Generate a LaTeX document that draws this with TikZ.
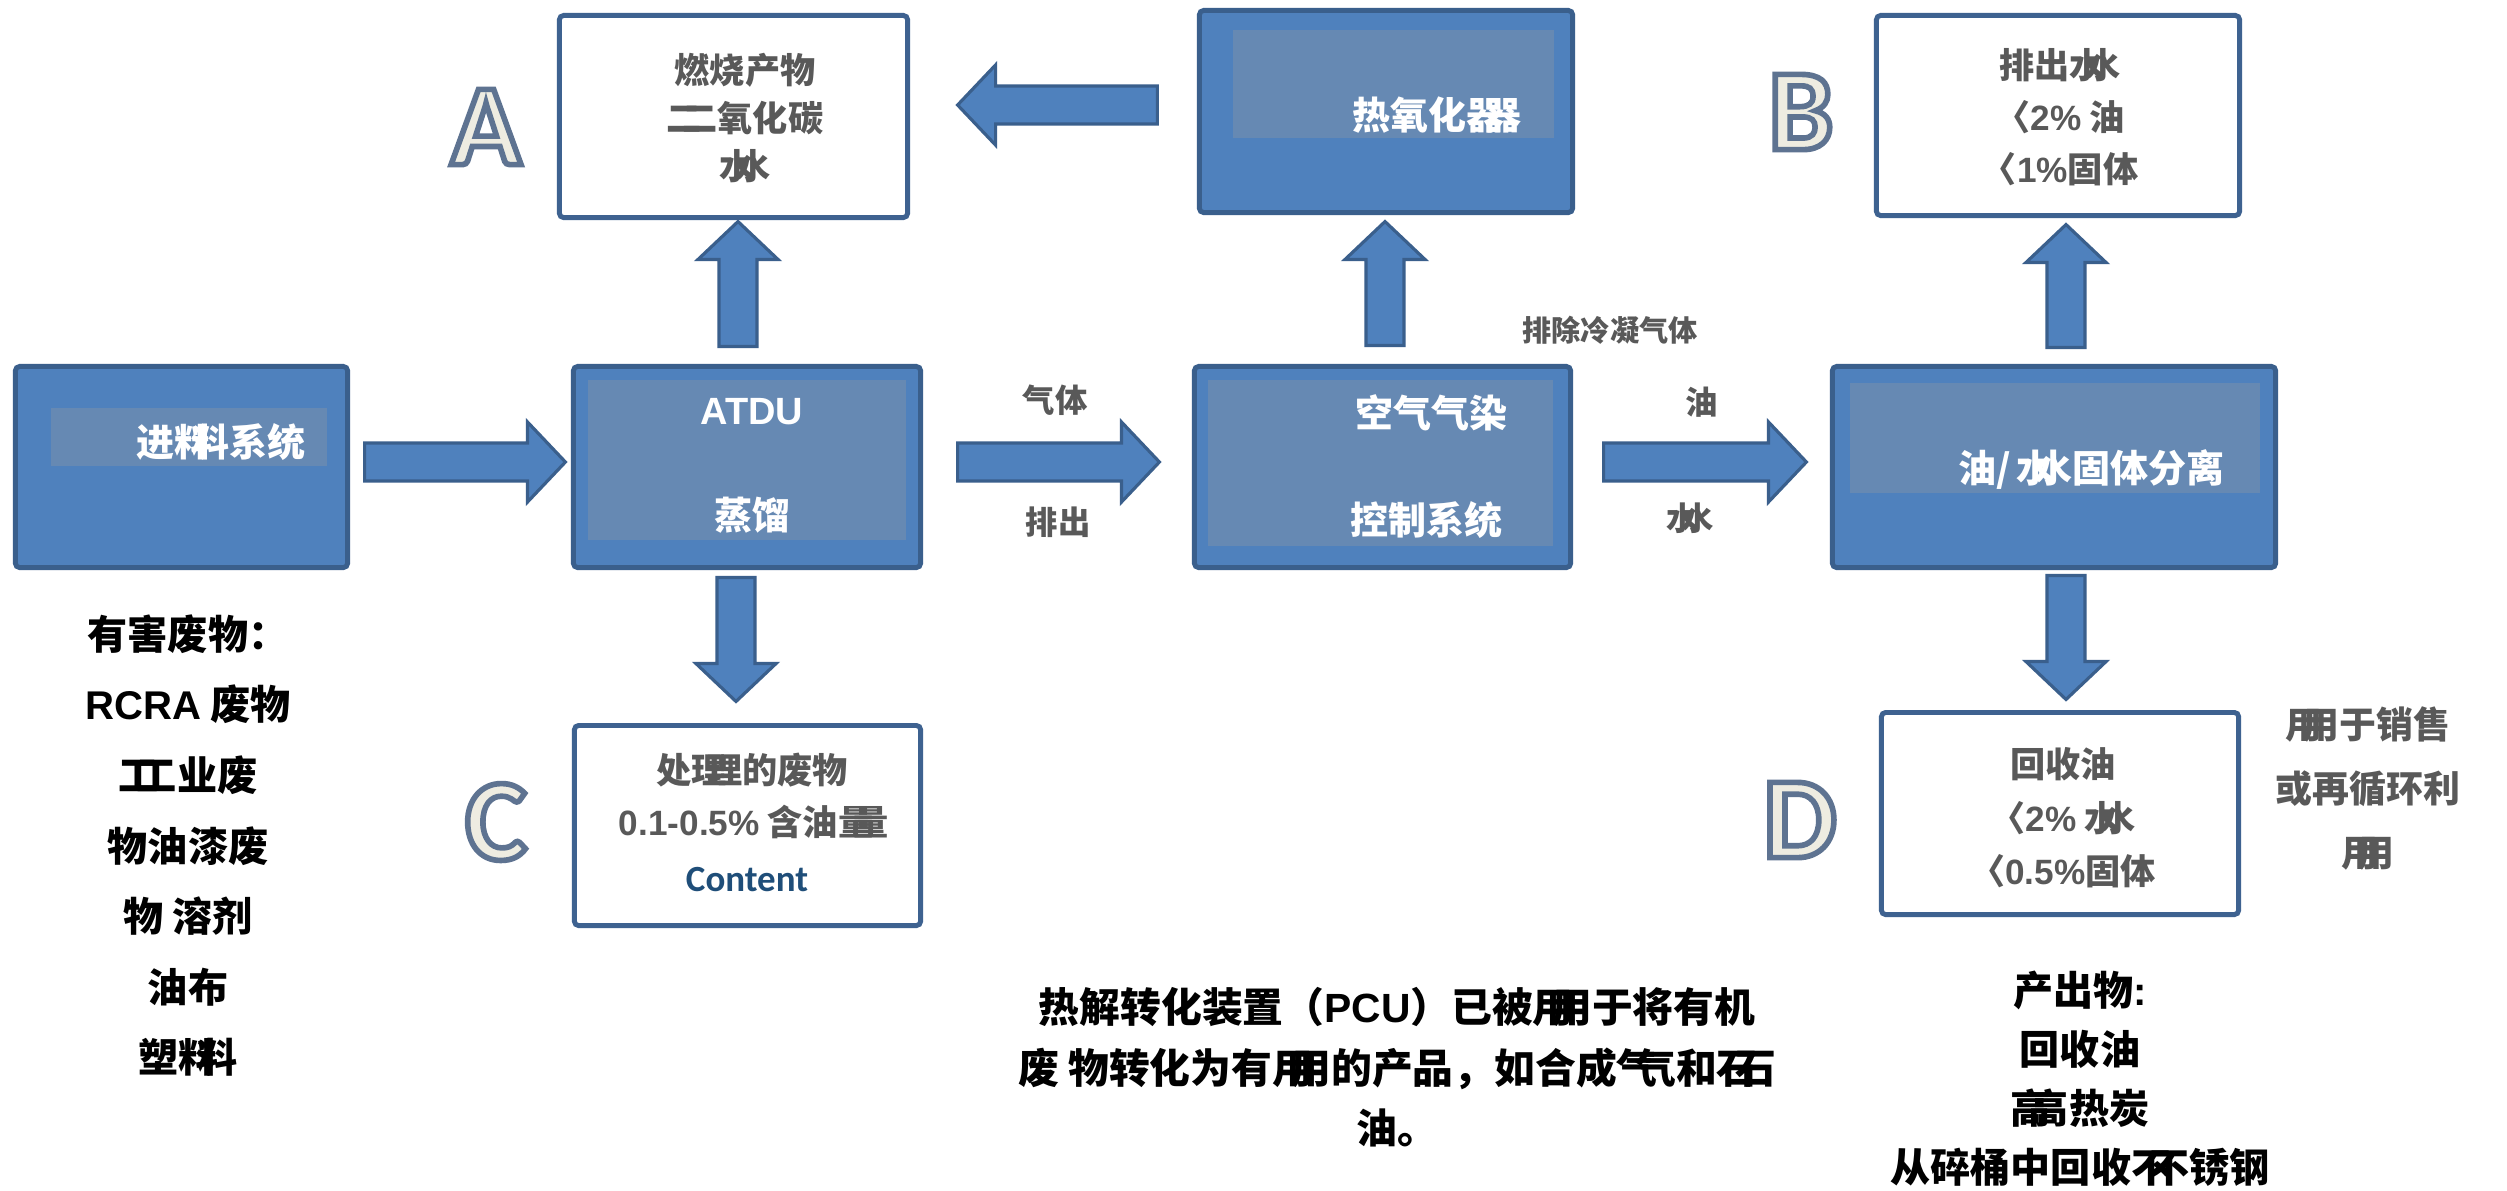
\documentclass[tikz,border=0pt]{standalone}
\usepackage{fontspec}
\setmainfont{Noto Sans CJK SC}
\newfontfamily\lat{Liberation Sans}
\newfontfamily\calfont{Carlito}
\usetikzlibrary{calc}
\definecolor{boxblue}{HTML}{4F81BD}
\definecolor{boxedge}{HTML}{3A5F8C}
\definecolor{innerblue}{HTML}{6689B3}
\definecolor{wedge}{HTML}{3E6290}
\definecolor{txtgray}{HTML}{595959}
\definecolor{navy}{HTML}{1F4E79}
\definecolor{cream}{HTML}{EEECE1}
\newcommand\dup[1]{#1\kern-.55em#1}
\newcommand\olet[1]{{\color{cream}\special{pdf:literal direct 0.37 0.45 0.57 RG 2 Tr 1.6 w}#1\special{pdf:literal direct 0 Tr}}}
\begin{document}
\begin{tikzpicture}[x=0.01cm,y=-0.01cm,
  bluebox/.style={draw=boxedge,fill=boxblue,line width=1.4pt,rounded corners=1.2pt,inner sep=0pt,outer sep=0pt},
  whitebox/.style={draw=wedge,fill=white,line width=1.4pt,rounded corners=1.2pt,inner sep=0pt,outer sep=0pt},
  wt/.style={text=white,font=\bfseries\fontsize{10.8pt}{13pt}\selectfont,inner sep=0pt},
  gt/.style={text=txtgray,align=center,inner sep=0pt},
  bt/.style={text=black,align=center,inner sep=0pt},
  letter/.style={font=\calfont\bfseries\fontsize{33pt}{33pt}\selectfont,inner sep=0pt},
  blockarrow/.style={fill=boxblue,draw=boxedge,line width=.9pt,
    to path={let \p1=(\tikztostart), \p2=(\tikztotarget), \n1={atan2(\y2-\y1,\x2-\x1)} in
      ($(\p1)+(\n1+90:5.4pt)$) -- ($(\p2)+(\n1+180:10.8pt)+(\n1+90:5.4pt)$)
      -- ($(\p2)+(\n1+180:10.8pt)+(\n1+90:11.4pt)$) -- (\p2)
      -- ($(\p2)+(\n1+180:10.8pt)+(\n1-90:11.4pt)$) -- ($(\p2)+(\n1+180:10.8pt)+(\n1-90:5.4pt)$)
      -- ($(\p1)+(\n1-90:5.4pt)$) -- cycle}}]
\useasboundingbox (0,0) rectangle (2507,1190);
\fill[white] (0,0) rectangle (2507,1190);

% blue process boxes
\node[bluebox,minimum width=3.32cm,minimum height=2.01cm] (feed) at (181.5,467) {};
\node[bluebox,minimum width=3.47cm,minimum height=2.01cm] (atdu) at (747,467) {};
\node[bluebox,minimum width=3.76cm,minimum height=2.01cm] (air) at (1382.5,467) {};
\node[bluebox,minimum width=4.43cm,minimum height=2.01cm] (sep) at (2054,467) {};
\node[bluebox,minimum width=3.73cm,minimum height=2.02cm] (ox) at (1386,111.5) {};
% lighter patches
\fill[innerblue] (51,408) rectangle (327,466);
\fill[innerblue] (588,380) rectangle (906,540);
\fill[innerblue] (1208,380) rectangle (1553,546);
\fill[innerblue] (1850,383) rectangle (2260,493);
\fill[innerblue] (1233,30) rectangle (1554,138);

% white output boxes
\node[whitebox,minimum width=3.48cm,minimum height=2.02cm] (boxA) at (733.5,116.5) {};
\node[whitebox,minimum width=3.63cm,minimum height=2.00cm] (boxB) at (2058,115.5) {};
\node[whitebox,minimum width=3.46cm,minimum height=2.00cm] (boxC) at (747.5,825.5) {};
\node[whitebox,minimum width=3.57cm,minimum height=2.02cm] (boxD) at (2060,813.5) {};

% texts in blue boxes
\node[wt] (tfeed) at (221,442) {进\dup{料}系统};
\node[wt] (tatdu1) at (752,412) {{\lat ATDU}};
\node[wt] (tatdu2) at (752,515) {蒸馏};
\node[wt] (tair1) at (1431,413) {空气气染};
\node[wt] (tair2) at (1426,520) {控制系统};
\node[wt] (tsep) at (2091,470) {油/\,\dup{水}固体分离};
\node[wt] (tox) at (1437,115) {热氧化\dup{器}};

% texts in white boxes
\node[gt,font=\bfseries\fontsize{10pt}{13.66pt}\selectfont] (tA) at (745,118) {燃烧产物\\\dup{二}氧化碳\\\dup{水}};
\node[gt,font=\bfseries\fontsize{10pt}{14.8pt}\selectfont] (tB) at (2060,117) {排出\dup{水}\\〈{\lat 2\%} 油\\〈{\lat 1\%}固体};
\node[gt,font=\bfseries\fontsize{10pt}{14pt}\selectfont] (tC1) at (752,770) {处\dup{理}的废物};
\node[gt,font=\bfseries\fontsize{10pt}{14pt}\selectfont] (tC2) at (754,822) {{\lat 0.1-0.5\%} 含油\dup{量}};
\node[inner sep=0pt,text=navy,font=\calfont\bfseries\fontsize{10.5pt}{13pt}\selectfont] (tC3) at (747,880) {Content};
\node[gt,font=\bfseries\fontsize{10pt}{15.2pt}\selectfont] (tD) at (2063,818) {回收油\\〈{\lat 2\%} \dup{水}\\〈{\lat 0.5\%}固体};

% flow labels
\node[gt,font=\bfseries\fontsize{8.3pt}{10pt}\selectfont] (lcond) at (1610,330) {排除冷凝气体};
\node[gt,font=\bfseries\fontsize{9.2pt}{11pt}\selectfont] (lgas) at (1055,400) {气体};
\node[gt,font=\bfseries\fontsize{9.2pt}{11pt}\selectfont] (lexh) at (1058,522) {排出};
\node[gt,font=\bfseries\fontsize{9.2pt}{11pt}\selectfont] (loil) at (1702,402) {油};
\node[gt,font=\bfseries\fontsize{9.2pt}{11pt}\selectfont] (lwat) at (1690,518) {\dup{水}};
\node[gt,font=\bfseries\fontsize{10.5pt}{18.2pt}\selectfont] (sale) at (2368,788) {\dup{用}于销售\\或再循环利\\\dup{用}};

% black texts
\node[bt,font=\bfseries\fontsize{11.4pt}{20.06pt}\selectfont] (haz) at (188,845.5) {有害废物：\\{\lat RCRA} 废物\\\dup{工}业废\\物油漆废\\物\ 溶剂\\油布\\塑\dup{料}};
\node[bt,font=\bfseries\fontsize{11.6pt}{17.2pt}\selectfont] (pcu) at (1397,1067.5) {热解转化装置（{\lat PCU}）已被\dup{用}于将有机\\废\ 物转化为有\dup{用}的产品，如合成\dup{气}和\dup{石}\\油。};
\node[bt,font=\bfseries\fontsize{11.4pt}{16.8pt}\selectfont] (outp) at (2080,1079) {产出物{\lat :}\\回收油\\\dup{高}热炭\\从碎桶中回收\dup{不}锈钢};

% letters
\node[letter] (labA) at (486,127) {\olet{A}};
\node[letter] (labB) at (1801,112) {\olet{B}};
\node[letter] (labC) at (496,822) {\olet{C}};
\node[letter] (labD) at (1800,820) {\olet{D}};

% arrow end points
\coordinate (c1s) at ($(feed.east)+(17,-5)$);
\coordinate (c1e) at ($(atdu.west)+(-8,-5)$);
\coordinate (c2s) at ($(atdu.east)+(37,-5)$);
\coordinate (c2e) at ($(air.west)+(-35,-5)$);
\coordinate (c3s) at ($(air.east)+(33,-5)$);
\coordinate (c3e) at ($(sep.west)+(-26,-5)$);
\coordinate (c4s) at ($(ox.west)+(-42,-6.5)$);
\coordinate (c4e) at ($(boxA.east)+(50,-11.5)$);
\coordinate (c5s) at ($(atdu.north)+(-9,-20)$);
\coordinate (c5e) at ($(boxA.south)+(4.5,4)$);
\coordinate (c6s) at ($(air.north)+(2.5,-21)$);
\coordinate (c6e) at ($(ox.south)+(-1,9)$);
\coordinate (c7s) at ($(sep.north)+(12,-19)$);
\coordinate (c7e) at ($(boxB.south)+(8,9)$);
\coordinate (c8s) at ($(atdu.south)+(-11,10)$);
\coordinate (c8e) at ($(boxC.north)+(-11.5,-24)$);
\coordinate (c9s) at ($(sep.south)+(12,8)$);
\coordinate (c9e) at ($(boxD.north)+(6,-13)$);

\draw[blockarrow] (c1s) to (c1e);
\draw[blockarrow] (c2s) to (c2e);
\draw[blockarrow] (c3s) to (c3e);
\draw[blockarrow] (c4s) to (c4e);
\draw[blockarrow] (c5s) to (c5e);
\draw[blockarrow] (c6s) to (c6e);
\draw[blockarrow] (c7s) to (c7e);
\draw[blockarrow] (c8s) to (c8e);
\draw[blockarrow] (c9s) to (c9e);
\end{tikzpicture}
\end{document}
